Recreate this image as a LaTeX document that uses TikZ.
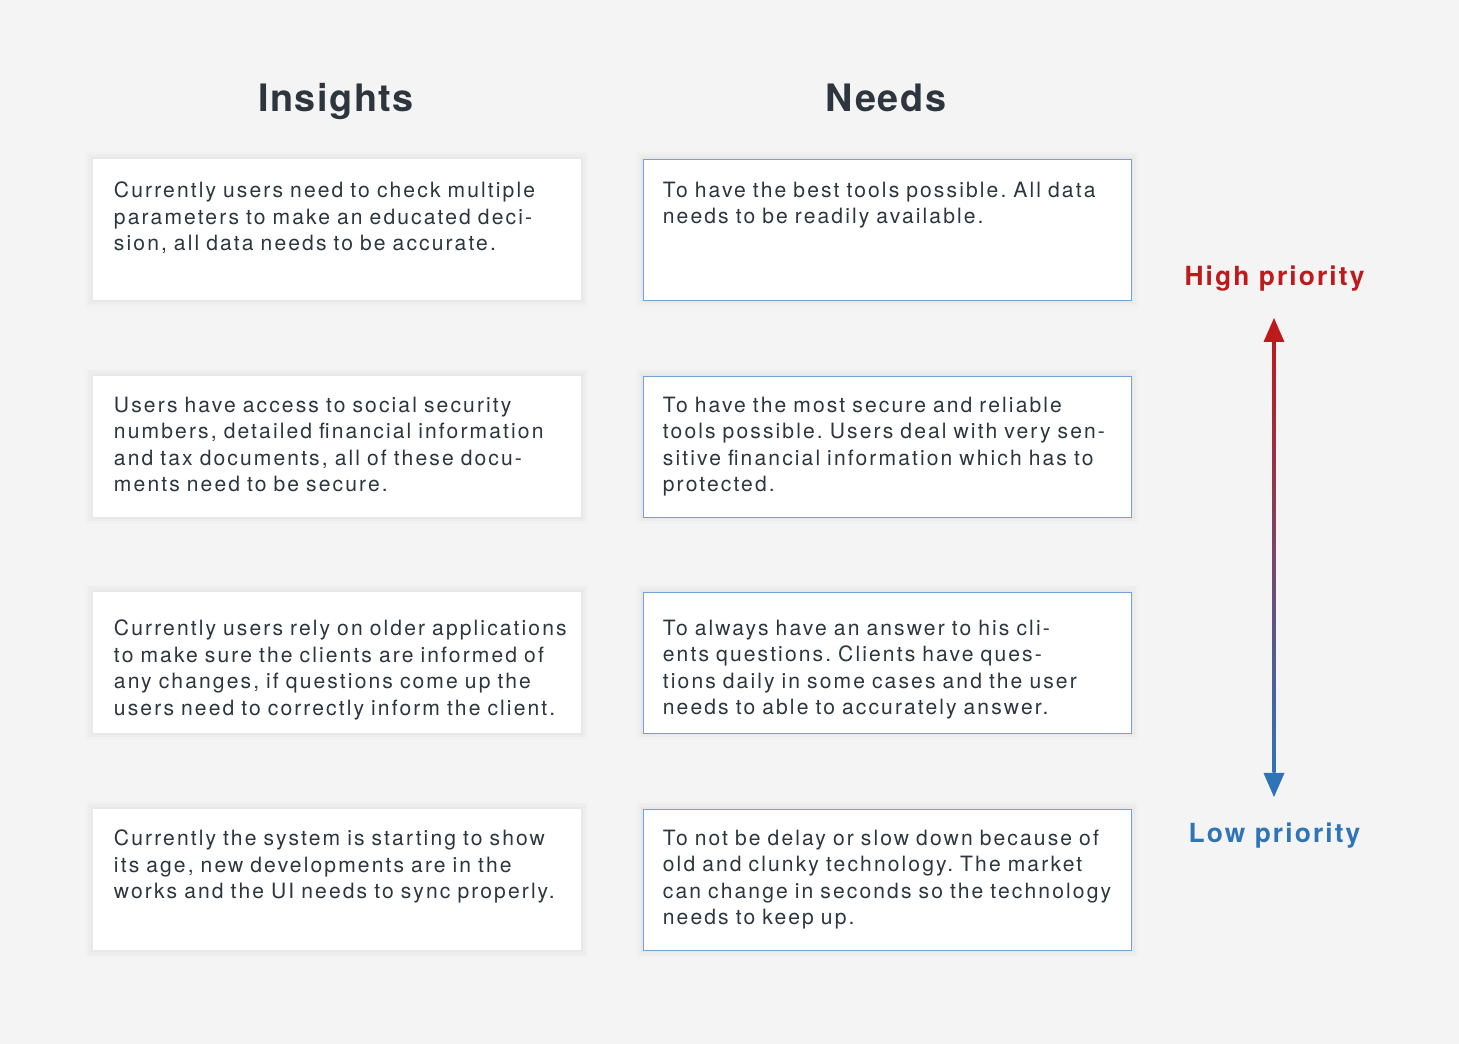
\documentclass[tikz,border=0pt]{standalone}
\usepackage{fontspec}
\setmainfont{TeX Gyre Heros}
\newfontfamily\bodyfont{TeX Gyre Heros}[LetterSpace=10]
\newfontfamily\headfont{TeX Gyre Heros}[LetterSpace=4]
\newfontfamily\prioityfont{TeX Gyre Heros}[LetterSpace=8]
\usetikzlibrary{positioning}
\frenchspacing

\definecolor{pagebg}{HTML}{F4F4F4}
\definecolor{inktext}{HTML}{2D363E}
\definecolor{needline}{HTML}{6FA3DA}
\definecolor{hired}{HTML}{BE1A1C}
\definecolor{loblue}{HTML}{2E74B6}

\tikzset{
  cardbox/.style={fill=white, inner sep=0pt,
    minimum width=97.6mm, minimum height=28.2mm,
    preaction={draw=black, draw opacity=0.012, line width=2.8mm},
    preaction={draw=black, draw opacity=0.015, line width=1.8mm},
    preaction={draw=black, draw opacity=0.018, line width=0.9mm}},
  needbox/.style={cardbox, draw=needline, line width=0.5pt},
  cardtext/.style={anchor=north west, inner sep=0pt, text width=96mm,
    align=left, text=inktext, font=\bodyfont\fontsize{12}{15.08}\selectfont},
  headtext/.style={anchor=base, inner sep=0pt, text=inktext,
    font=\headfont\bfseries\fontsize{21.5}{24}\selectfont},
  prioritytext/.style={anchor=base, inner sep=0pt,
    font=\prioityfont\bfseries\fontsize{15}{18}\selectfont},
}

\begin{document}
\begin{tikzpicture}[x=0.2mm, y=-0.2mm]
  \fill[pagebg] (0,0) rectangle (1459,1044);

  % column heads
  \node[headtext] (insightshead) at (336,112) {Insights};
  \node[headtext] (needshead) at (886,112) {Needs};

  % insights
  \node[cardbox] (ins1) at (337,229.5) {};
  \node[cardbox] (ins2) at (337,446.5) {};
  \node[cardbox] (ins3) at (337,662.5) {};
  \node[cardbox] (ins4) at (337,879.5) {};
  \node[cardtext] (ins1text) at ([shift={(21,23)}]ins1.north west)
    {Currently users need to check multiple\\ parameters to make an educated deci-\\ sion, all data needs to be accurate.};
  \node[cardtext] (ins2text) at ([shift={(21,21)}]ins2.north west)
    {Users have access to social security\\ numbers, detailed financial information\\ and tax documents, all of these docu-\\ ments need to be secure.};
  \node[cardtext] (ins3text) at ([shift={(21,28)}]ins3.north west)
    {Currently users rely on older applications\\ to make sure the clients are informed of\\ any changes, if questions come up the\\ users need to correctly inform the client.};
  \node[cardtext] (ins4text) at ([shift={(21,21)}]ins4.north west)
    {Currently the system is starting to show\\ its age, new developments are in the\\ works and the UI needs to sync properly.};

  % needs
  \node[needbox] (need1) at (887,229.5) {};
  \node[needbox] (need2) at (887,446.5) {};
  \node[needbox] (need3) at (887,662.5) {};
  \node[needbox] (need4) at (887,879.5) {};
  \node[cardtext] (need1text) at ([shift={(20,23)}]need1.north west)
    {To have the best tools possible. All data\\ needs to be readily available.};
  \node[cardtext] (need2text) at ([shift={(20,21)}]need2.north west)
    {To have the most secure and reliable\\ tools possible. Users deal with very sen-\\ sitive financial information which has to\\ protected.};
  \node[cardtext] (need3text) at ([shift={(20,28)}]need3.north west)
    {To always have an answer to his cli-\\ ents questions. Clients have ques-\\ tions daily in some cases and the user\\ needs to able to accurately answer.};
  \node[cardtext] (need4text) at ([shift={(20,21)}]need4.north west)
    {To not be delay or slow down because of\\ old and clunky technology. The market\\ can change in seconds so the technology\\ needs to keep up.};

  % priority scale
  \node[prioritytext, text=hired] (highlabel) at (1274.5,286) {High priority};
  \node[prioritytext, text=loblue] (lowlabel) at (1274.5,843) {Low priority};
  \coordinate (hightip) at (1274,318);
  \coordinate (lowtip) at (1274,797);
  \fill[hired] (hightip) -- ++(10.5,24) -- ++(-21,0) -- cycle;
  \fill[loblue] (lowtip) -- ++(10.5,-24) -- ++(-21,0) -- cycle;
  \shade[top color=hired, bottom color=loblue]
    ([shift={(-1.5,24)}]hightip) rectangle ([shift={(1.5,-24)}]lowtip);
\end{tikzpicture}
\end{document}
